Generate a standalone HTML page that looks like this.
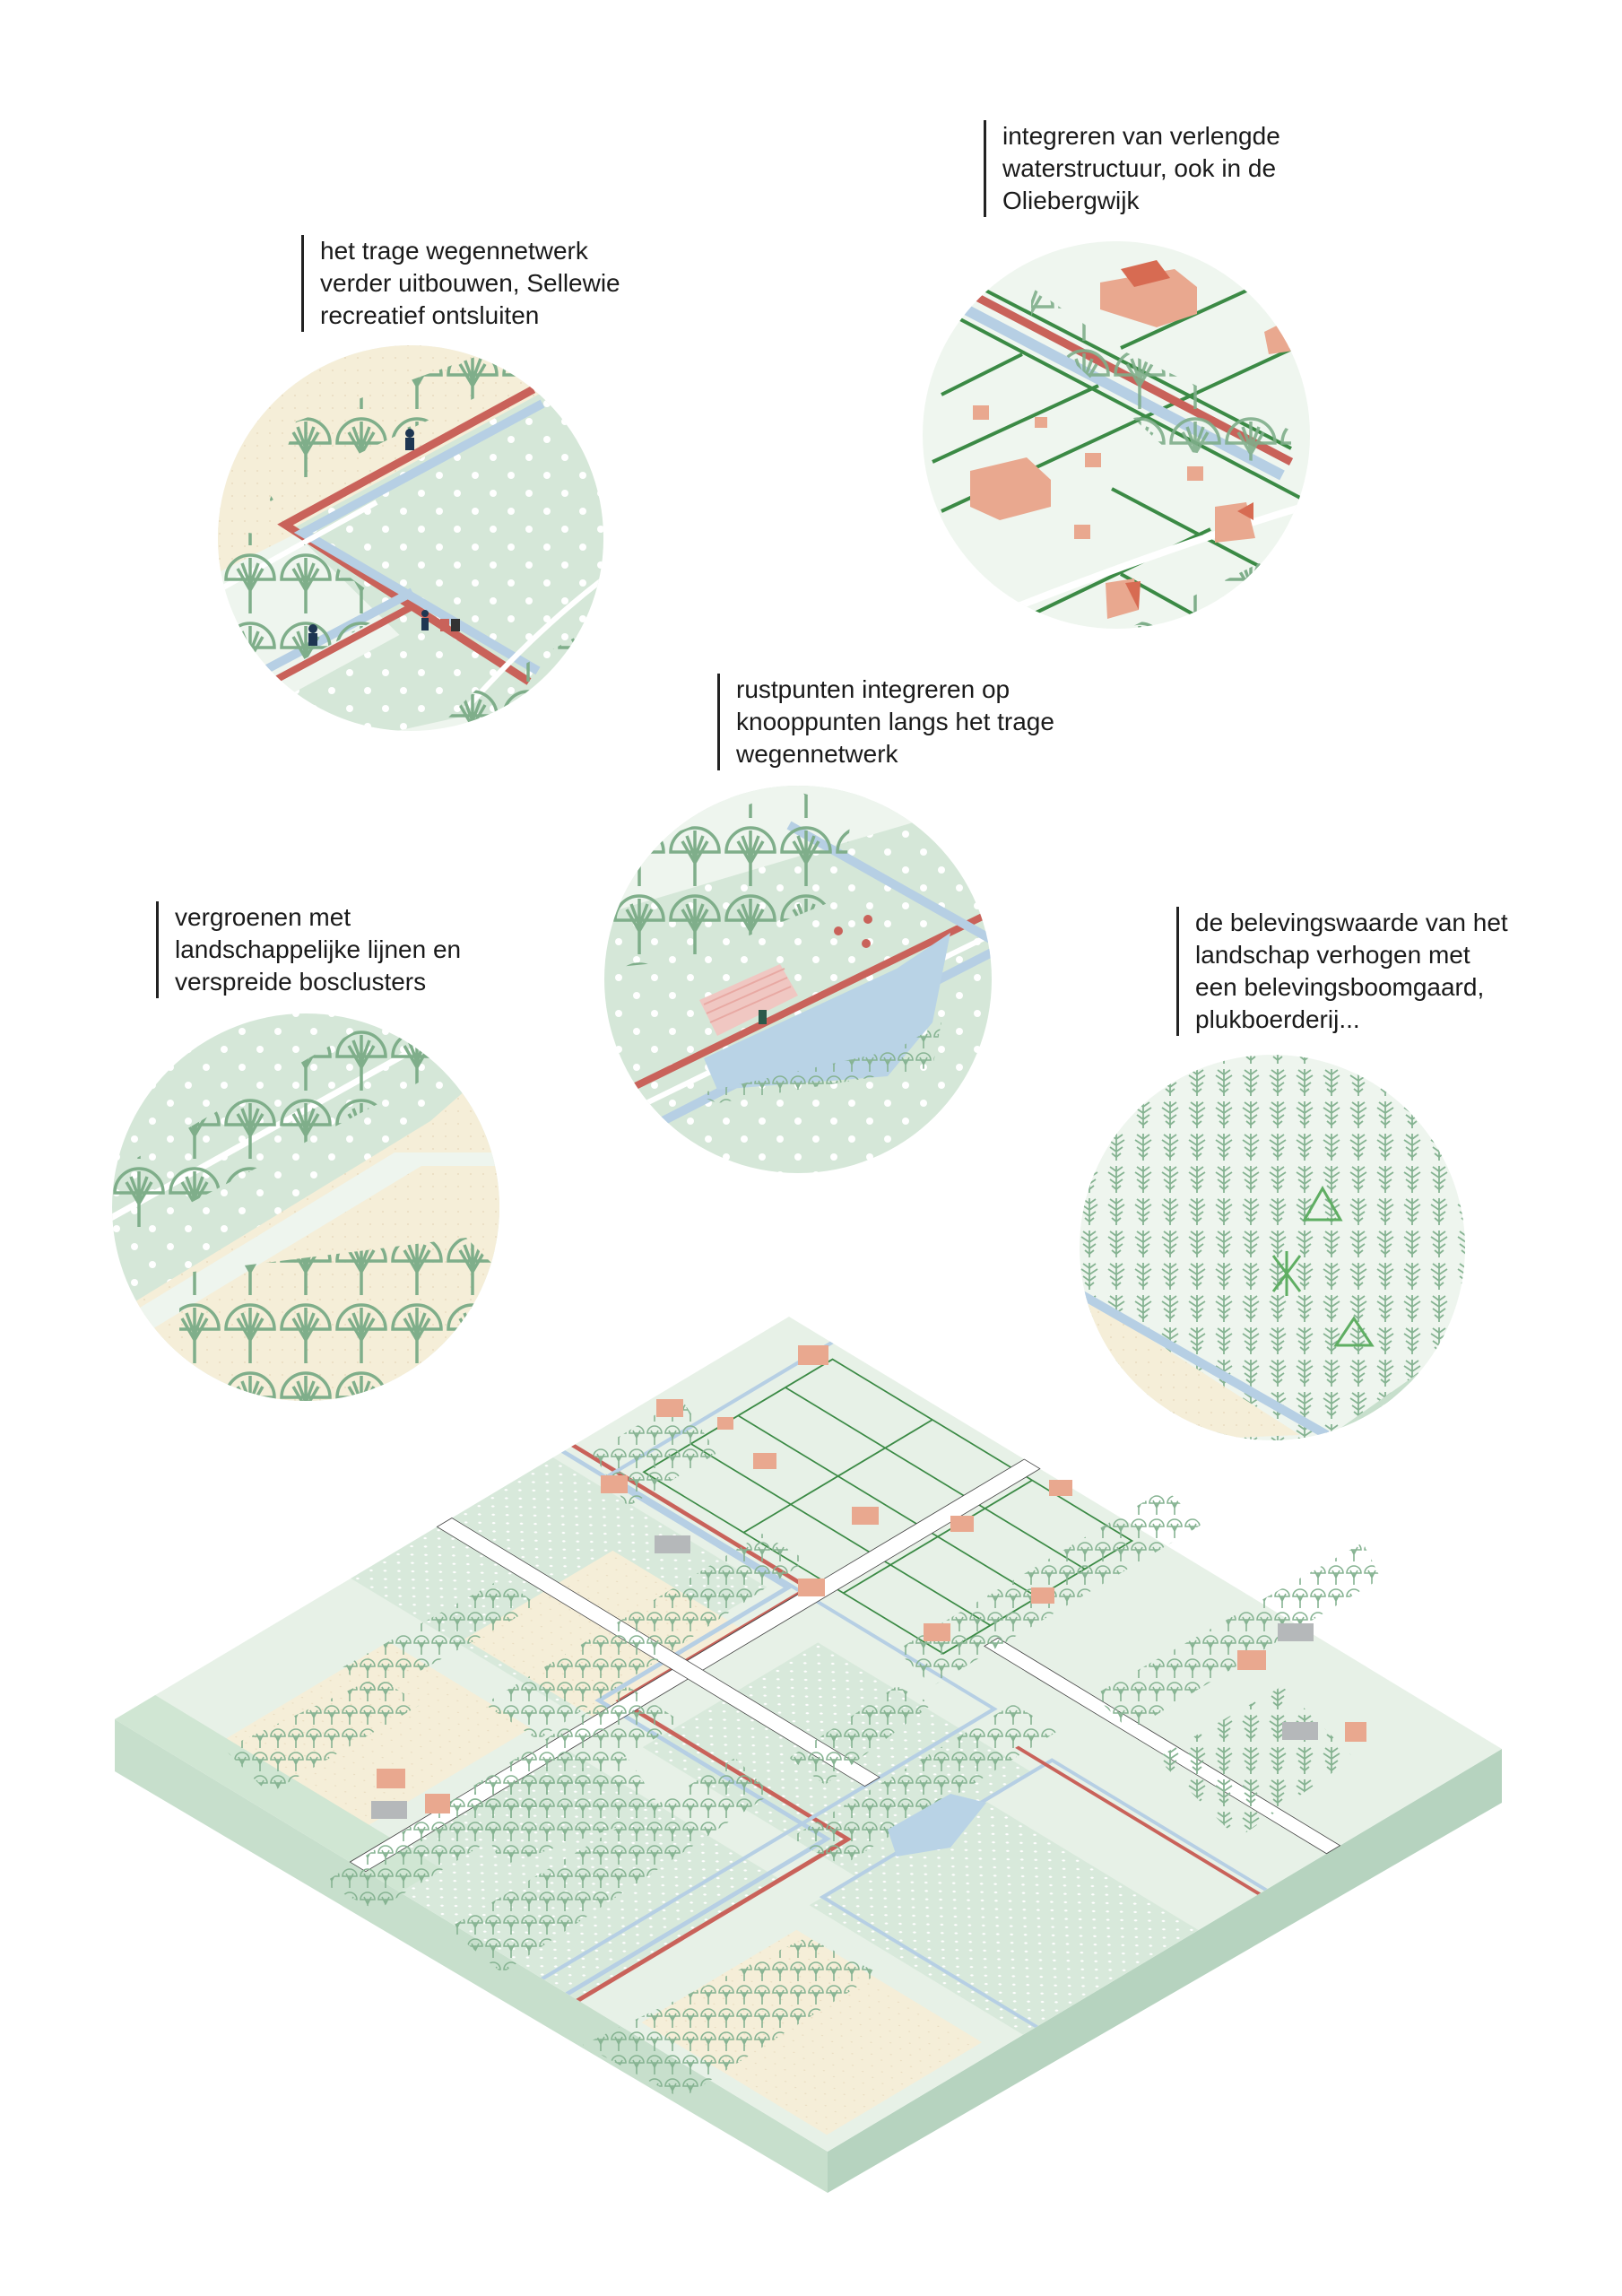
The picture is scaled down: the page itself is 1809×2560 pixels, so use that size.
<!DOCTYPE html>
<html><head><meta charset="utf-8">
<style>
html,body{margin:0;padding:0;background:#fff;}
body{width:1809px;height:2560px;position:relative;overflow:hidden;font-family:"Liberation Sans",sans-serif;}
.t{position:absolute;font-size:28px;line-height:36px;color:#1a1a1a;white-space:nowrap;padding-left:18px;border-left:3px solid #222;}
svg{position:absolute;left:0;top:0;}
</style></head><body>
<svg width="1809" height="2560" viewBox="0 0 1809 2560" xmlns="http://www.w3.org/2000/svg">
<defs>
<pattern id="dots" width="40" height="40" patternUnits="userSpaceOnUse"><rect width="40" height="40" fill="#d5e7d8"/><circle cx="10" cy="10" r="4" fill="#fff"/><circle cx="30" cy="30" r="4" fill="#fff"/></pattern>
<pattern id="sdots" width="20" height="20" patternUnits="userSpaceOnUse"><rect width="20" height="20" fill="#d8e9db"/><circle cx="5" cy="5" r="1.6" fill="#fff"/><circle cx="15" cy="15" r="1.6" fill="#fff"/></pattern>
<pattern id="beige" width="14" height="14" patternUnits="userSpaceOnUse"><rect width="14" height="14" fill="#f5eed8"/><circle cx="7" cy="7" r="1" fill="#e9dcc0"/></pattern>
<pattern id="bigtree" width="62" height="76" patternUnits="userSpaceOnUse">
<g fill="none" stroke="#7fae8a" stroke-width="3.5"><path d="M4 38 A27 27 0 0 1 58 38 Z"/><path d="M31 38 V76 M31 50 L17 26 M31 50 L45 26 M31 44 L31 14 M31 44 L22 20 M31 44 L40 20"/></g></pattern>
<pattern id="tree" width="20" height="26" patternUnits="userSpaceOnUse">
<g fill="none" stroke="#86b392" stroke-width="1.6"><path d="M2 12 A8 8 0 0 1 18 12 Z"/><path d="M10 12 V25 M10 17 L6 9 M10 17 L14 9"/></g></pattern>
<pattern id="otree" width="30" height="36" patternUnits="userSpaceOnUse">
<g fill="none" stroke="#86b392" stroke-width="1.8"><path d="M15 34 V4 M15 10 L8 5 M15 10 L22 5 M15 17 L6 11 M15 17 L24 11 M15 24 L8 19 M15 24 L22 19 M15 30 L10 26 M15 30 L20 26"/></g></pattern>
<clipPath id="c1"><circle cx="458" cy="600" r="215"/></clipPath>
<clipPath id="c2"><circle cx="1245" cy="485" r="216"/></clipPath>
<clipPath id="c3"><circle cx="890" cy="1092" r="216"/></clipPath>
<clipPath id="c4"><circle cx="341" cy="1346" r="216"/></clipPath>
<clipPath id="c5"><circle cx="1419" cy="1391" r="215"/></clipPath>
</defs>

<!-- Circle 1 -->
<g clip-path="url(#c1)">
<rect x="240" y="380" width="440" height="440" fill="#eef5ee"/>
<polygon points="240,380 680,380 680,420 240,640" fill="url(#beige)"/>
<polygon points="325,590 600,440 680,440 680,820 560,820" fill="url(#dots)"/>
<polygon points="240,820 460,700 600,780 420,820" fill="url(#dots)"/>
<polyline points="595,434 318,585 590,760" fill="none" stroke="#c9625a" stroke-width="9"/>
<polyline points="605,450 338,594 600,748" fill="none" stroke="#b6cfe4" stroke-width="10"/>
<line x1="290" y1="750" x2="460" y2="660" stroke="#b6cfe4" stroke-width="10"/>
<line x1="300" y1="762" x2="462" y2="675" stroke="#c9625a" stroke-width="8"/>
<path d="M240 660 L420 560" stroke="#fff" stroke-width="6"/>
<path d="M520 790 Q600 700 680 640" stroke="#fff" stroke-width="6" fill="none"/>
<polygon points="330,470 580,380 600,410 350,530 300,560" fill="url(#bigtree)"/>
<polygon points="240,590 330,600 440,680 330,740 240,740" fill="url(#bigtree)"/>
<polygon points="530,770 680,690 680,820 480,820" fill="url(#bigtree)"/>
<g fill="#1e3652"><circle cx="457" cy="483" r="5"/><rect x="452" y="488" width="10" height="14"/><circle cx="349" cy="701" r="5"/><rect x="344" y="706" width="10" height="14"/><circle cx="474" cy="684" r="4"/><rect x="470" y="689" width="8" height="14"/></g>
<rect x="491" y="690" width="10" height="14" fill="#c9625a"/><rect x="503" y="690" width="10" height="14" fill="#333"/>
</g>

<!-- Circle 2 -->
<g clip-path="url(#c2)">
<rect x="1025" y="265" width="440" height="440" fill="#eff6ef"/>
<g stroke="#3b8a45" stroke-width="4" fill="none">
<line x1="1090" y1="315" x2="1230" y2="245"/><line x1="1088" y1="318" x2="1440" y2="500"/>
<line x1="1050" y1="345" x2="1450" y2="555"/><line x1="1050" y1="440" x2="1140" y2="395"/>
<line x1="1040" y1="515" x2="1225" y2="430"/><line x1="1050" y1="570" x2="1460" y2="380"/>
<line x1="1250" y1="388" x2="1410" y2="315"/><line x1="1120" y1="700" x2="1350" y2="590"/>
<line x1="1240" y1="545" x2="1440" y2="650"/><line x1="1250" y1="640" x2="1340" y2="690"/></g>
<line x1="1068" y1="320" x2="1440" y2="515" stroke="#c9625a" stroke-width="9"/>
<line x1="1058" y1="335" x2="1430" y2="530" stroke="#b6cfe4" stroke-width="12"/>
<path d="M1100 690 Q1300 610 1470 560" stroke="#fff" stroke-width="8" fill="none"/>
<g fill="#e9a88f"><polygon points="1227,315 1310,300 1335,320 1335,350 1290,365 1227,345"/><polygon points="1082,525 1145,510 1172,535 1172,565 1115,580 1082,565"/><polygon points="1355,565 1390,560 1400,600 1355,605"/><polygon points="1410,370 1440,355 1450,390 1415,395"/><polygon points="1233,650 1265,645 1270,680 1235,690"/><rect x="1085" y="452" width="18" height="16"/><rect x="1210" y="505" width="18" height="16"/><rect x="1324" y="520" width="18" height="16"/><rect x="1198" y="585" width="18" height="16"/><rect x="1154" y="465" width="14" height="12"/></g>
<g fill="#d76b52"><polygon points="1250,300 1290,290 1305,310 1265,320"/><polygon points="1380,570 1398,580 1398,560"/><polygon points="1425,360 1445,380 1445,355"/><polygon points="1255,650 1270,680 1272,648"/></g>
<polygon points="1150,320 1250,390 1440,480 1440,520 1300,500 1150,360" fill="url(#bigtree)" opacity="0.9"/>
<polygon points="1260,700 1420,620 1460,620 1460,705" fill="url(#bigtree)"/>
</g>

<!-- Circle 3 -->
<g clip-path="url(#c3)">
<rect x="670" y="870" width="440" height="440" fill="url(#dots)"/>
<polygon points="670,870 1110,870 1110,890 670,1020" fill="#eef5ee"/>
<line x1="680" y1="1225" x2="1110" y2="1015" stroke="#c9625a" stroke-width="8"/>
<line x1="690" y1="1245" x2="1110" y2="1040" stroke="#fff" stroke-width="6"/>
<line x1="700" y1="1270" x2="1110" y2="1060" stroke="#b6cfe4" stroke-width="10"/>
<polygon points="785,1180 1000,1080 1060,1040 1040,1140 990,1200 800,1215" fill="#b9d3e6"/>
<line x1="880" y1="920" x2="1110" y2="1050" stroke="#b6cfe4" stroke-width="10"/>
<polygon points="780,1115 870,1075 890,1110 800,1155" fill="#f0c7c2"/>
<g stroke="#e8a9a3" stroke-width="2"><line x1="785" y1="1120" x2="875" y2="1080"/><line x1="788" y1="1130" x2="878" y2="1090"/><line x1="792" y1="1140" x2="882" y2="1100"/></g>
<polygon points="670,960 880,880 950,900 940,1000 770,1070 670,1080" fill="url(#bigtree)"/>
<polygon points="775,1220 1000,1170 1050,1140 1040,1190 800,1230" fill="url(#tree)"/>
<g fill="#c9625a"><circle cx="935" cy="1038" r="5"/><circle cx="968" cy="1025" r="5"/><circle cx="966" cy="1052" r="5"/></g>
<rect x="846" y="1126" width="9" height="16" fill="#2b5a4a"/>
</g>

<!-- Circle 4 -->
<g clip-path="url(#c4)">
<rect x="120" y="1125" width="440" height="440" fill="url(#dots)"/>
<polygon points="120,1470 480,1250 560,1180 560,1565 120,1565" fill="url(#beige)"/>
<polygon points="120,1480 440,1285 560,1285 560,1300 470,1300 140,1500" fill="#eef5ee"/>
<line x1="120" y1="1360" x2="480" y2="1160" stroke="#fff" stroke-width="7"/>
<polygon points="120,1310 430,1130 480,1130 480,1200 120,1390" fill="url(#bigtree)"/>
<polygon points="200,1420 520,1380 560,1420 560,1565 200,1565" fill="url(#bigtree)"/>
</g>

<!-- Circle 5 -->
<g clip-path="url(#c5)">
<rect x="1200" y="1175" width="440" height="440" fill="#eef5ee"/>
<rect x="1200" y="1175" width="440" height="440" fill="url(#otree)"/>
<polygon points="1200,1440 1450,1600 1200,1610" fill="url(#beige)"/>
<line x1="1200" y1="1440" x2="1480" y2="1600" stroke="#b6cfe4" stroke-width="10"/>
<polygon points="1470,1610 1640,1490 1640,1620" fill="#c7dfcc"/>
<g fill="none" stroke="#5fae63" stroke-width="3"><polygon points="1455,1360 1475,1325 1495,1360"/><polygon points="1490,1500 1510,1470 1530,1500"/><line x1="1420" y1="1400" x2="1450" y2="1440"/><line x1="1450" y1="1400" x2="1420" y2="1440"/><line x1="1435" y1="1395" x2="1435" y2="1445"/></g>
</g>

<!-- Isometric block -->
<polygon points="128,1917 923,2399 923,2445 128,1975" fill="#c7dfcc"/>
<polygon points="923,2399 1675,1950 1675,2010 923,2445" fill="#b6d3bf"/>
<polygon points="128,1917 880,1468 1675,1950 923,2399" fill="#e7f1e7"/>
<g transform="matrix(0.795,0.482,-0.752,0.449,880,1468)">
<rect x="0" y="350" width="300" height="300" fill="url(#sdots)"/>
<rect x="400" y="380" width="300" height="260" fill="url(#sdots)"/>
<rect x="350" y="700" width="300" height="300" fill="url(#sdots)"/>
<rect x="700" y="450" width="300" height="260" fill="url(#sdots)"/>
<rect x="150" y="420" width="200" height="220" fill="url(#beige)"/>
<rect x="100" y="700" width="200" height="250" fill="url(#beige)"/>
<rect x="720" y="750" width="260" height="230" fill="url(#beige)"/>
<rect x="0" y="940" width="400" height="60" fill="#d0e6d3"/>
<g fill="none" stroke="#3b8a45" stroke-width="2.2">
<rect x="80" y="20" width="420" height="280"/><line x1="80" y1="90" x2="500" y2="90"/><line x1="80" y1="160" x2="500" y2="160"/><line x1="80" y1="230" x2="500" y2="230"/><line x1="220" y1="20" x2="220" y2="300"/><line x1="360" y1="20" x2="360" y2="300"/>
</g>
<polyline points="0,320 330,320 330,600 650,600 650,1000" fill="none" stroke="#c9625a" stroke-width="6"/>
<polyline points="0,335 315,335 315,615 635,615 635,1000" fill="none" stroke="#b6cfe4" stroke-width="6"/>
<polyline points="60,0 60,330 600,330 600,1000" fill="none" stroke="#b6cfe4" stroke-width="5"/>
<polyline points="1000,350 700,350 700,690 1000,690" fill="none" stroke="#b6cfe4" stroke-width="5"/>
<polyline points="1000,360 660,360" fill="none" stroke="#c9625a" stroke-width="5"/>
<rect x="330" y="0" width="22" height="1000" fill="#fff" stroke="#444" stroke-width="1"/>
<rect x="0" y="500" width="600" height="22" fill="#fff" stroke="#444" stroke-width="1"/>
<rect x="520" y="240" width="480" height="20" fill="#fff" stroke="#444" stroke-width="1"/>
</g>
<g>
<polygon points="250,1950 420,1870 470,1900 300,2000" fill="url(#tree)"/>
<polygon points="360,2100 700,1880 760,1920 420,2130" fill="url(#tree)"/>
<polygon points="540,1900 850,1710 900,1740 600,1940" fill="url(#tree)"/>
<polygon points="500,2150 820,1960 860,2000 560,2200" fill="url(#tree)"/>
<polygon points="650,2280 900,2160 980,2200 760,2340" fill="url(#tree)"/>
<polygon points="880,2050 1130,1900 1180,1930 940,2080" fill="url(#tree)"/>
<polygon points="1000,1840 1300,1660 1340,1700 1040,1880" fill="url(#tree)"/>
<polygon points="1220,1890 1520,1720 1540,1760 1260,1930" fill="url(#tree)"/>
<polygon points="660,1620 760,1560 800,1620 700,1680" fill="url(#tree)"/>
<polygon points="880,1960 1000,1880 1040,1900 920,1990" fill="url(#tree)"/>
<polygon points="380,1860 560,1760 600,1790 420,1890" fill="url(#tree)"/>
<polygon points="520,2000 700,1960 740,2020 560,2080" fill="url(#tree)"/>
<polygon points="1290,1960 1430,1880 1510,1960 1380,2050" fill="url(#otree)"/>
</g>
<g fill="#e9a88f">
<rect x="732" y="1560" width="30" height="20"/><rect x="890" y="1500" width="34" height="22"/><rect x="670" y="1645" width="30" height="20"/><rect x="840" y="1620" width="26" height="18"/><rect x="950" y="1680" width="30" height="20"/><rect x="1060" y="1690" width="26" height="18"/><rect x="890" y="1760" width="30" height="20"/><rect x="1030" y="1810" width="30" height="20"/><rect x="1170" y="1650" width="26" height="18"/><rect x="1380" y="1840" width="32" height="22"/><rect x="1500" y="1920" width="24" height="22"/><rect x="420" y="1972" width="32" height="22"/><rect x="474" y="2000" width="28" height="22"/><rect x="1150" y="1770" width="26" height="18"/><rect x="800" y="1580" width="18" height="14"/>
</g>
<g fill="#b5b8ba"><rect x="730" y="1712" width="40" height="20"/><rect x="1425" y="1810" width="40" height="20"/><rect x="1430" y="1920" width="40" height="20"/><rect x="414" y="2008" width="40" height="20"/></g>
<polygon points="990,2040 1060,2000 1100,2010 1060,2060 1000,2070" fill="#b9d3e6"/>
</svg>

<div class="t" style="left:336px;top:262px;">het trage wegennetwerk<br>verder uitbouwen, Sellewie<br>recreatief ontsluiten</div>
<div class="t" style="left:1097px;top:134px;">integreren van verlengde<br>waterstructuur, ook in de<br>Oliebergwijk</div>
<div class="t" style="left:800px;top:751px;">rustpunten integreren op<br>knooppunten langs het trage<br>wegennetwerk</div>
<div class="t" style="left:174px;top:1005px;">vergroenen met<br>landschappelijke lijnen en<br>verspreide bosclusters</div>
<div class="t" style="left:1312px;top:1011px;">de belevingswaarde van het<br>landschap verhogen met<br>een  belevingsboomgaard,<br>plukboerderij...</div>
</body></html>
